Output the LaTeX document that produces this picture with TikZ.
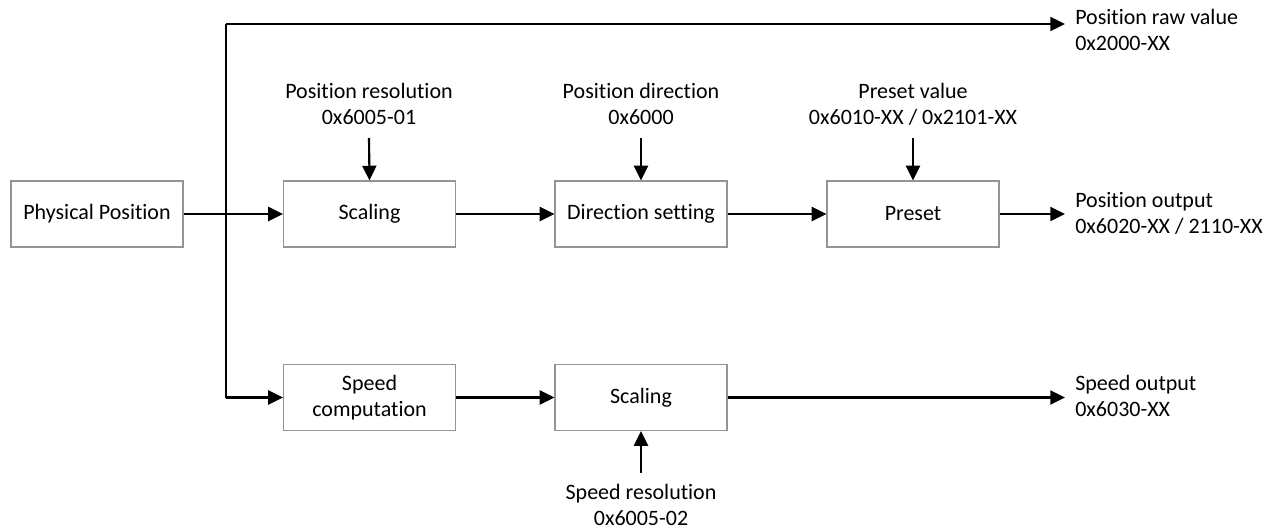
\documentclass[tikz,border=0pt]{standalone}
\usepackage{fontspec}
\setmainfont{Carlito}[Ligatures={NoCommon,NoRare,NoContextual}]
\usetikzlibrary{arrows.meta}
\begin{document}
\begin{tikzpicture}[x=0.75pt,y=-0.75pt,
  block/.style={draw=black!42,line width=0.9pt,minimum width=129pt,minimum height=49.5pt,inner sep=0pt,align=center,font=\fontsize{16.5}{19.5}\selectfont},
  lbl/.style={inner sep=0pt,align=center,font=\fontsize{16.5}{19.5}\selectfont},
  wire/.style={line width=1.6pt,-{Triangle[length=11pt,width=10.5pt]}},
  plain/.style={line width=1.6pt}]
\useasboundingbox (0,0) rectangle (1277,531);
% blocks
\node[block] (phys) at (97,214) {Physical Position};
\node[block] (scal) at (369.5,214) {Scaling};
\node[block] (dir) at (641,214) {Direction setting};
\node[block] (pre) at (913,214) {Preset};
\node[block] (spd) at (369.5,397.5) {Speed\\computation};
\node[block] (scal2) at (641,397.5) {Scaling};
% parameter labels
\node[lbl] (pres) at (369,104) {Position resolution\\0x6005-01};
\node[lbl] (pdir) at (641,104) {Position direction\\0x6000};
\node[lbl] (pval) at (913,104) {Preset value\\0x6010-XX / 0x2101-XX};
\node[lbl] (sres) at (641,505) {Speed resolution\\0x6005-02};
% outputs
\node[lbl,anchor=west,align=left] (oraw) at (1075,30) {Position raw value\\0x2000-XX};
\node[lbl,anchor=west,align=left] (opos) at (1075,213) {Position output\\0x6020-XX / 2110-XX};
\node[lbl,anchor=west,align=left] (ospd) at (1075,396) {Speed output\\0x6030-XX};
% branch points
\coordinate (btop) at (226,24);
\coordinate (bbot) at (226,397.5);
\coordinate (rawend) at (1065,24);
% connectors
\draw[plain] (btop) -- (bbot);
\draw[wire] (btop) -- (rawend);
\draw[wire] (phys.east) -- (scal.west);
\draw[wire] (bbot) -- (spd.west);
\draw[wire] (scal.east) -- (dir.west);
\draw[wire] (dir.east) -- (pre.west);
\draw[wire] (pre.east) -- (pre.east -| rawend);
\draw[wire] (spd.east) -- (scal2.west);
\draw[wire] (scal2.east) -- (scal2.east -| rawend);
\draw[wire] (369,138) -- (scal.north);
\draw[wire] (641,138) -- (dir.north);
\draw[wire] (913,138) -- (pre.north);
\draw[wire] (641,473) -- (scal2.south);
\end{tikzpicture}
\end{document}
